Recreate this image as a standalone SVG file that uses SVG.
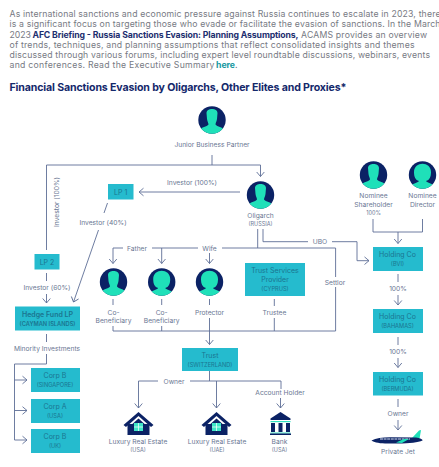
<svg xmlns="http://www.w3.org/2000/svg" width="439" height="467" viewBox="0 0 439 467">
<style>
text{font-family:"Inter","Open Sans","Liberation Sans",sans-serif}
.b{font-size:8.7px;fill:#777a83}
.bb{font-size:8.7px;font-weight:700;fill:#1d2f6f}
.h{font-size:8.7px;font-weight:700;fill:#16989f}
.t{font-size:10.6px;font-weight:700;fill:#14286b}
.l{font-size:6.7px;fill:#6a7793;text-anchor:middle}
.s{font-size:5.5px;fill:#6a7793;text-anchor:middle}
.bl{font-size:7px;fill:#1b7590;text-anchor:middle}
.bs{font-size:5.7px;fill:#1b7590;text-anchor:middle}
.box{fill:#25bbce}
.c{fill:none;stroke:#5e6e96;stroke-width:.9}
.a{marker-end:url(#ar)}
.n{fill:#0b2265}
.f{fill:#1fe0b9}
</style>
<defs>
<marker id="ar" markerUnits="userSpaceOnUse" markerWidth="8" markerHeight="10" refX="6.5" refY="5" orient="auto">
<path d="M2 1.2 L6.5 5 L2 8.8" fill="none" stroke="#5e6e96" stroke-width=".9"/>
</marker>
<clipPath id="cc"><circle r="13.7"/></clipPath>
<g id="male"><circle r="13.7" class="n"/><path clip-path="url(#cc)" class="f" d="M-5.5-7 C-5.5-12.5 5.5-12.5 5.5-7 L5-1 C4.5 2 3.5 3 3.5 4.5 C5 7 11 7 12 10 L12 14 L-12 14 L-12 10 C-11 7-5 7-3.5 4.5 C-3.5 3-4.5 2-5 -1Z"/></g>
<g id="female"><circle r="13.7" class="n"/><path clip-path="url(#cc)" class="f" d="M-8.5-3 C-8.5-14 8.5-14 8.5-3 C8.5 2 7 5 3.5 6 C5 8 10 8 11 11 L11 14 L-11 14 L-11 11 C-10 8-5 8-3.5 6 C-7 5-8.5 2-8.5-3Z"/></g>
<g id="house"><path class="n" d="M0 0 L15 13 L12.5 15 L11 13.5 L11 23 L-11 23 L-11 13.5 L-12.5 15 L-15 13Z"/><path d="M0 4 L9 12 L-9 12Z" fill="#fff"/><path class="n" d="M0 6.5 L9.5 15 L-9.5 15Z"/><rect x="-4.5" y="11" width="9" height="8" fill="#3fe6c8"/><path d="M0 11V19M-4.5 15H4.5" stroke="#fff" stroke-width=".7"/></g>
</defs>

<text class="b" x="9.5" y="17" textLength="431">As international sanctions and economic pressure against Russia continues to escalate in 2023, there</text>
<text class="b" x="9.5" y="27.3" textLength="431">is a significant focus on targeting those who evade or facilitate the evasion of sanctions. In the March</text>
<text class="b" x="9.5" y="37.5">2023</text>
<text class="bb" x="32.5" y="37.5" textLength="266">AFC Briefing - Russia Sanctions Evasion: Planning Assumptions,</text>
<text class="b" x="301" y="37.5" textLength="126">ACAMS provides an overview</text>
<text class="b" x="9.5" y="47.7" textLength="405">of trends, techniques, and planning assumptions that reflect consolidated insights and themes</text>
<text class="b" x="9.5" y="57.8" textLength="420.5">discussed through various forums, including expert level roundtable discussions, webinars, events</text>
<text class="b" x="9.5" y="68" textLength="205">and conferences. Read the Executive Summary</text>
<text class="h" x="216" y="68" textLength="19">here</text><text class="b" x="235" y="68">.</text>
<text class="t" x="9.5" y="91" textLength="337">Financial Sanctions Evasion by Oligarchs, Other Elites and Proxies*</text>

<g id="connectors">
<path class="c" d="M212 155V165"/>
<path class="c a" d="M46.5 250V165H260.5V176.5"/>
<path class="c a" d="M240 192H139"/>
<path class="c" d="M107.5 203L104 213"/>
<path class="c a" d="M98.5 230L73.5 302"/>
<path class="c" d="M46.5 273V281"/>
<path class="c a" d="M46.5 294V303"/>
<path class="c" d="M46.5 334V342"/>
<path class="c" d="M46.5 354V364H14.5V440"/>
<path class="c a" d="M14.5 380H27"/>
<path class="c a" d="M14.5 410.5H27"/>
<path class="c a" d="M14.5 440H27"/>
<path class="c a" d="M123 248H113V263.5"/>
<path class="c" d="M152 248H198"/>
<path class="c a" d="M161.7 248V263.5"/>
<path class="c a" d="M209.5 253V263.5"/>
<path class="c" d="M222 248H335.6V277"/>
<path class="c" d="M335.6 287V331H113V326"/>
<path class="c" d="M257.7 229V248"/>
<path class="c" d="M263 229V241.7H308"/>
<path class="c a" d="M332 241.7H357V260.7H369"/>
<path class="c" d="M113 299V305M161.7 299V305M209.5 299V305M274.3 299V306"/>
<path class="c" d="M161.7 326V331M274.3 318V331"/>
<path class="c a" d="M209.5 318V344.5"/>
<path class="c" d="M209.5 371V381"/>
<path class="c a" d="M158 381H138.5V408"/>
<path class="c" d="M190 381H281V389"/>
<path class="c a" d="M216.5 381V408"/>
<path class="c a" d="M280.5 398V408"/>
<path class="c" d="M373 219V232H422.5V219"/>
<path class="c a" d="M398 232V243.5"/>
<path class="c" d="M398 274V282"/>
<path class="c a" d="M398 295V305"/>
<path class="c" d="M398 337V345"/>
<path class="c a" d="M398 358V367.5"/>
<path class="c" d="M398 399V407"/>
<path class="c a" d="M398 420V430"/>
</g>

<text class="l" x="192" y="184.5">Investor (100%)</text>
<text class="l" transform="translate(58.5 202) rotate(-90)">Investor (100%)</text>
<text class="l" x="103" y="224.5">Investor (40%)</text>
<text class="l" x="47" y="289.7">Investor (60%)</text>
<text class="l" x="47" y="350.5">Minority Investments</text>
<text class="l" x="137" y="250.5">Father</text>
<text class="l" x="209.5" y="250.5">Wife</text>
<text class="l" x="320" y="244">UBO</text>
<text class="l" x="335" y="284.5">Settlor</text>
<text class="l" x="174" y="383.5">Owner</text>
<text class="l" x="280" y="394.5">Account Holder</text>
<text class="l" x="398" y="290.5">100%</text>
<text class="l" x="398" y="353.5">100%</text>
<text class="l" x="398" y="415.5">Owner</text>

<g id="junior"><use href="#male" x="212" y="120"/><text class="l" x="212" y="146.5">Junior Business Partner</text></g>
<g id="oligarch"><use href="#male" x="260.5" y="195"/><text class="l" x="260.5" y="217.5">Oligarch</text><text class="s" x="260.5" y="226">(RUSSIA)</text></g>
<g id="nominee-shareholder"><use href="#male" x="373.5" y="175"/><text class="l" x="373.5" y="198">Nominee</text><text class="l" x="373.5" y="206.5">Shareholder</text><text class="s" x="373.5" y="215">100%</text></g>
<g id="nominee-director"><use href="#female" x="422.5" y="175"/><text class="l" x="422.5" y="198">Nominee</text><text class="l" x="422.5" y="206.5">Director</text></g>
<g id="co-beneficiary-1"><use href="#male" x="113.5" y="282"/><text class="l" x="113.5" y="314.5">Co-</text><text class="l" x="113.5" y="322.5">Beneficiary</text></g>
<g id="co-beneficiary-2"><use href="#female" x="161.7" y="282"/><text class="l" x="161.7" y="314.5">Co-</text><text class="l" x="161.7" y="322.5">Beneficiary</text></g>
<g id="protector"><use href="#female" x="209.5" y="282"/><text class="l" x="209.5" y="314.5">Protector</text></g>
<g id="trustee"><text class="l" x="274.5" y="314.5">Trustee</text></g>

<g id="lp1"><rect class="box" x="108" y="184" width="25.5" height="15.5"/><text class="bl" x="120.7" y="194.5">LP 1</text></g>
<g id="lp2"><rect class="box" x="34.5" y="254" width="25" height="15.5"/><text class="bl" x="47" y="264.5">LP 2</text></g>
<g id="hedge-fund"><rect class="box" x="15" y="306.5" width="65" height="24"/><text class="bl" x="47.5" y="316.5" font-weight="600">Hedge Fund LP</text><text class="bs" x="47.5" y="325.5" font-weight="600">(CAYMAN ISLANDS)</text></g>
<g id="corp-b-sg"><rect class="box" x="31" y="368" width="49" height="24"/><text class="bl" x="55" y="378">Corp B</text><text class="bs" x="55" y="387">(SINGAPORE)</text></g>
<g id="corp-a"><rect class="box" x="31" y="399" width="49" height="24"/><text class="bl" x="55" y="409">Corp A</text><text class="bs" x="55" y="417.5">(USA)</text></g>
<g id="corp-b-uk"><rect class="box" x="31" y="429" width="49" height="24"/><text class="bl" x="55" y="439">Corp B</text><text class="bs" x="55" y="447.5">(UK)</text></g>
<g id="trust-services"><rect class="box" x="245" y="263" width="60" height="33"/><text class="bl" x="275" y="273">Trust Services</text><text class="bl" x="275" y="281.5">Provider</text><text class="bs" x="275" y="290.5">(CYPRUS)</text></g>
<g id="trust"><rect class="box" x="182" y="348" width="56" height="23"/><text class="bl" x="210" y="357.5">Trust</text><text class="bs" x="210" y="366.5">(SWITZERLAND)</text></g>
<g id="holding-bvi"><rect class="box" x="373" y="247" width="50" height="24"/><text class="bl" x="397.5" y="256.5">Holding Co</text><text class="bs" x="397.5" y="265.5">(BVI)</text></g>
<g id="holding-bahamas"><rect class="box" x="373" y="309" width="50" height="24"/><text class="bl" x="397.5" y="318.5">Holding Co</text><text class="bs" x="397.5" y="327.5">(BAHAMAS)</text></g>
<g id="holding-bermuda"><rect class="box" x="373" y="372" width="50" height="23.5"/><text class="bl" x="397.5" y="381.5">Holding Co</text><text class="bs" x="397.5" y="390.5">(BERMUDA)</text></g>

<g id="real-estate-usa"><use href="#house" x="138.5" y="412"/><text class="l" x="138" y="443.5">Luxury Real Estate</text><text class="s" x="138" y="452">(USA)</text></g>
<g id="real-estate-uae"><use href="#house" x="216.5" y="412"/><text class="l" x="217" y="443.5">Luxury Real Estate</text><text class="s" x="217" y="452">(UAE)</text></g>
<g id="bank">
<path class="n" d="M280.5 412L290.5 418.5V420H270.5V418.5Z"/>
<rect x="270.5" y="421" width="20" height="1.2" fill="#2fe0c0"/>
<rect class="n" x="271" y="423" width="4" height="9"/><rect class="n" x="278.5" y="423" width="4" height="9"/><rect class="n" x="286" y="423" width="4" height="9"/>
<rect x="270.5" y="432.5" width="20" height="1" fill="#2fe0c0"/><rect class="n" x="270" y="433.5" width="21" height="1.5"/>
<text class="l" x="279.5" y="443.5">Bank</text><text class="s" x="279.5" y="452">(USA)</text></g>
<g id="private-jet">
<path class="f" d="M412 438L419 430.5L421 430L419.5 439L414 441Z"/>
<path class="n" d="M371.5 440.5C376 438 382 437.3 390 437.3L416 437.5C420 438 423 439.5 422.5 440.5C418 442.5 410 443.5 398 443.5L385 443.5C378 443.3 373 442 371.5 440.5Z"/>
<path d="M380 439H410" stroke="#dfe6f5" stroke-width="1" stroke-dasharray="3 .6"/>
<path class="f" d="M396 442.5L404 439L409 439L402 443Z"/>
<text class="l" x="398" y="453.5">Private Jet</text></g>
</svg>
